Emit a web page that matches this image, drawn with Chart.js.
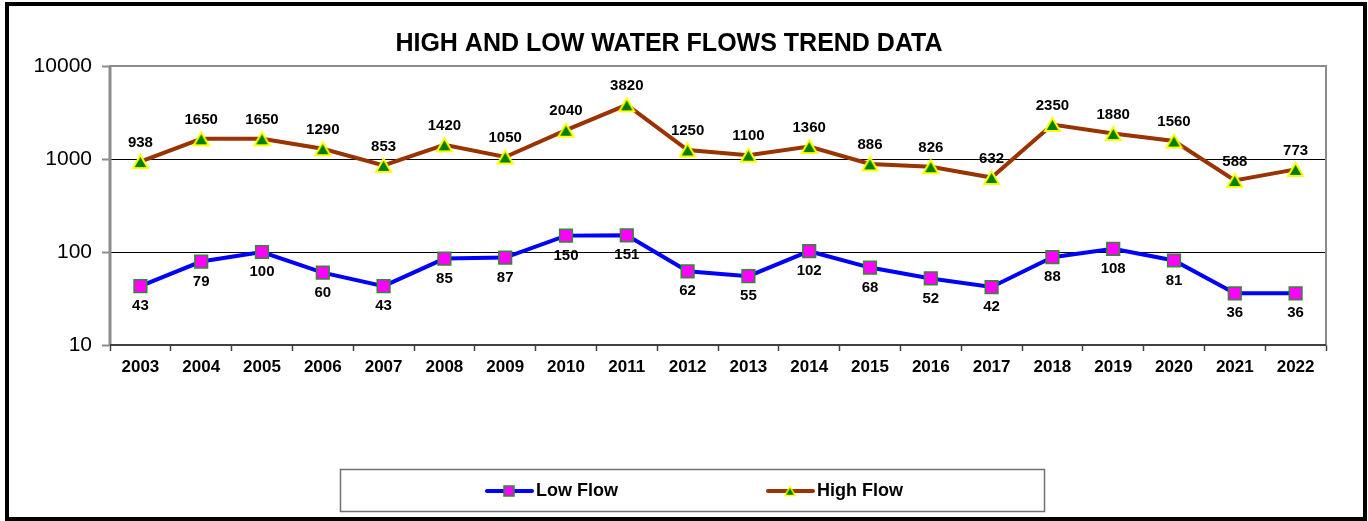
<!DOCTYPE html>
<html>
<head>
<meta charset="utf-8">
<script src="https://cdn.jsdelivr.net/npm/chart.js@4"></script>
<style>
  html, body { margin: 0; padding: 0; background: #fff; }
  #wrap { width: 1368px; height: 521px; position: relative; }
</style>
</head>
<body>
<div id="wrap"><canvas id="flow-chart" width="1368" height="521"></canvas></div>
<script>
const years = ['2003', '2004', '2005', '2006', '2007', '2008', '2009', '2010', '2011', '2012',
               '2013', '2014', '2015', '2016', '2017', '2018', '2019', '2020', '2021', '2022'];
const lowFlow = [43, 79, 100, 60, 43, 85, 87, 150, 151, 62, 55, 102, 68, 52, 42, 88, 108, 81, 36, 36];
const highFlow = [938, 1650, 1650, 1290, 853, 1420, 1050, 2040, 3820, 1250, 1100, 1360, 886, 826, 632, 2350, 1880, 1560, 588, 773];
const yTicks = [10, 100, 1000, 10000];
const chartTitle = 'HIGH AND LOW WATER FLOWS TREND DATA';

const FONT = 'Liberation Sans, Arial, sans-serif';

// triangle marker drawn once, centred on its box like the original
function makeTriangle(w, h, lw) {
    const c = document.createElement('canvas');
    c.width = w;
    c.height = h;
    const g = c.getContext('2d');
    g.beginPath();
    g.moveTo(w / 2, lw);
    g.lineTo(w - lw, h - lw);
    g.lineTo(lw, h - lw);
    g.closePath();
    g.fillStyle = '#008000';
    g.fill();
    g.strokeStyle = '#ffff00';
    g.lineWidth = lw;
    g.lineJoin = 'miter';
    g.stroke();
    return c;
}
const triMarker = makeTriangle(19, 17, 2);
const triLegend = makeTriangle(13, 12, 1.5);

const decorPlugin = {
    id: 'decor',
    beforeDraw(chart) {
        const ctx = chart.ctx;
        ctx.save();
        ctx.fillStyle = '#fff';
        ctx.fillRect(0, 0, chart.width, chart.height);
        ctx.restore();
    },
    beforeDatasetsDraw(chart) {
        const ctx = chart.ctx;
        const a = chart.chartArea;
        ctx.save();
        ctx.strokeStyle = '#8c8c8c';
        ctx.lineWidth = 2;
        ctx.strokeRect(a.left, a.top, a.right - a.left, a.bottom - a.top);
        ctx.lineWidth = 3;
        ctx.beginPath();
        ctx.moveTo(a.left, a.top);
        ctx.lineTo(a.left, a.bottom);
        ctx.stroke();
        ctx.strokeStyle = '#404040';
        ctx.lineWidth = 2;
        ctx.beginPath();
        ctx.moveTo(a.left, a.bottom);
        ctx.lineTo(a.right, a.bottom);
        ctx.stroke();
        ctx.restore();
    },
    afterDraw(chart) {
        const ctx = chart.ctx;
        ctx.save();

        // outer frame
        ctx.strokeStyle = '#000';
        ctx.lineWidth = 4;
        ctx.strokeRect(7, 4, 1358, 515);

        // title
        ctx.fillStyle = '#000';
        ctx.font = 'bold 25px ' + FONT;
        ctx.textAlign = 'center';
        ctx.textBaseline = 'middle';
        ctx.fillText(chartTitle, 669, 44);

        // value labels
        ctx.font = 'bold 15px ' + FONT;
        chart.data.datasets.forEach((ds, i) => {
            const meta = chart.getDatasetMeta(i);
            meta.data.forEach((pt, j) => {
                const dy = i === 0 ? 20 : -19;
                ctx.fillText(String(ds.data[j]), pt.x, pt.y + dy);
            });
        });

        // legend
        ctx.strokeStyle = '#707070';
        ctx.lineWidth = 1.5;
        ctx.strokeRect(340.5, 469.5, 704, 42);
        const ly = 491;
        const items = [
            { x: 487, ds: chart.data.datasets[0] },
            { x: 768, ds: chart.data.datasets[1] }
        ];
        items.forEach((it, k) => {
            const ds = it.ds;
            ctx.strokeStyle = ds.borderColor;
            ctx.lineWidth = 4;
            ctx.lineCap = 'round';
            ctx.beginPath();
            ctx.moveTo(it.x, ly);
            ctx.lineTo(it.x + 45, ly);
            ctx.stroke();
            const mx = it.x + 22;
            if (k === 0) {
                ctx.fillStyle = ds.pointBackgroundColor;
                ctx.strokeStyle = ds.pointBorderColor;
                ctx.lineWidth = 1.5;
                ctx.fillRect(mx - 5, ly - 5, 10, 10);
                ctx.strokeRect(mx - 5, ly - 5, 10, 10);
            } else {
                ctx.drawImage(triLegend, mx - triLegend.width / 2, ly - triLegend.height / 2);
            }
            ctx.fillStyle = '#000';
            ctx.font = 'bold 18px ' + FONT;
            ctx.textAlign = 'left';
            ctx.textBaseline = 'middle';
            ctx.fillText(ds.label, it.x + 49, ly);
        });
        ctx.restore();
    }
};

function createFlowChart() {
    const ctx = document.getElementById('flow-chart').getContext('2d');
    return new Chart(ctx, {
        type: 'line',
        data: {
            labels: years,
            datasets: [{
                label: 'Low Flow',
                data: lowFlow,
                borderColor: '#0000ff',
                borderWidth: 4,
                pointStyle: 'rect',
                pointRadius: 9,
                pointBackgroundColor: '#ff00ff',
                pointBorderColor: '#2e8b2e',
                pointBorderWidth: 1.5,
                tension: 0
            }, {
                label: 'High Flow',
                data: highFlow,
                borderColor: '#993300',
                borderWidth: 4,
                pointStyle: triMarker,
                pointRadius: 10,
                tension: 0
            }]
        },
        options: {
            responsive: false,
            animation: false,
            layout: { padding: { left: 0, right: 42, top: 66, bottom: 0 } },
            plugins: {
                legend: { display: false },
                title: { display: false },
                tooltip: { enabled: false }
            },
            scales: {
                x: {
                    type: 'category',
                    offset: true,
                    border: { display: false },
                    grid: {
                        offset: true,
                        drawOnChartArea: false,
                        drawTicks: true,
                        tickLength: 6,
                        tickColor: '#404040',
                        tickWidth: 1.5
                    },
                    ticks: {
                        color: '#000',
                        padding: 6,
                        maxRotation: 0,
                        autoSkip: false,
                        font: { family: FONT, size: 17, weight: 'bold' }
                    },
                    afterFit(scale) { scale.height = 176; }
                },
                y: {
                    type: 'logarithmic',
                    min: 10,
                    max: 10000,
                    border: { display: false },
                    grid: {
                        color: ctx => (ctx.tick && (ctx.tick.value === 100 || ctx.tick.value === 1000)) ? '#000' : 'rgba(0,0,0,0)',
                        lineWidth: 1,
                        drawTicks: true,
                        tickLength: 8,
                        tickColor: '#8c8c8c',
                        tickWidth: 2
                    },
                    afterBuildTicks(scale) {
                        scale.ticks = yTicks.map(v => ({ value: v, major: true }));
                    },
                    ticks: {
                        color: '#000',
                        padding: 10,
                        font: { family: FONT, size: 21 },
                        callback: v => String(v)
                    },
                    afterFit(scale) { scale.width = 110; }
                }
            }
        },
        plugins: [decorPlugin]
    });
}

createFlowChart();
</script>
</body>
</html>
